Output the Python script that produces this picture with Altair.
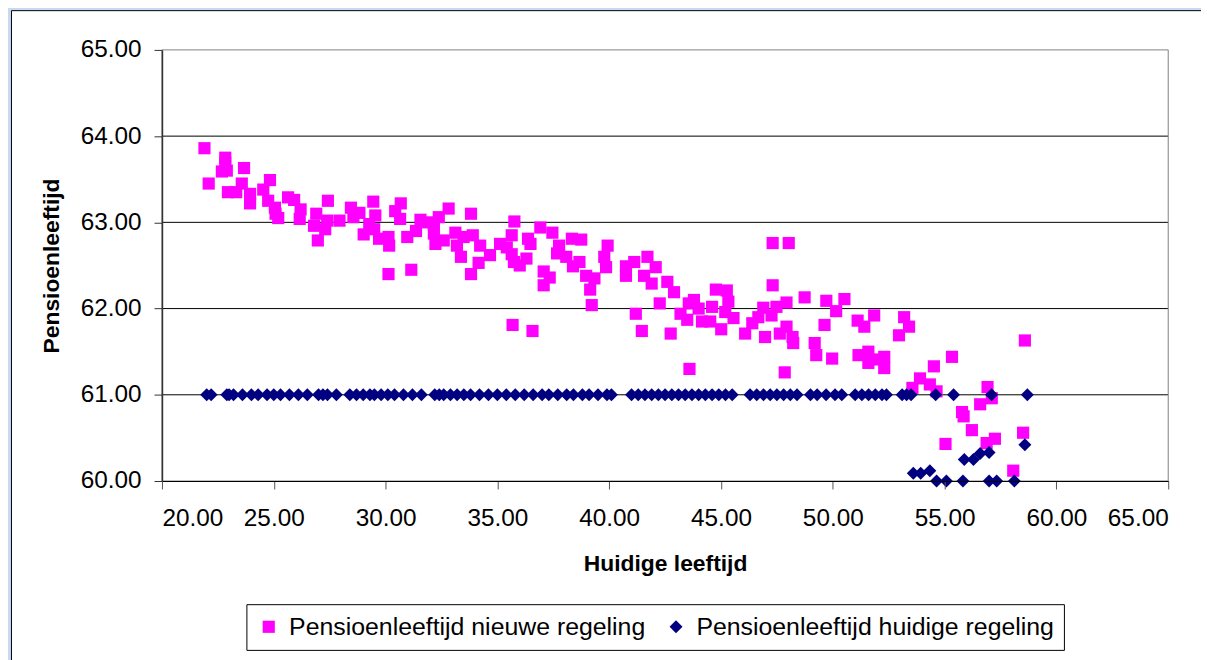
import altair as alt
import pandas as pd

NEW = "Pensioenleeftijd nieuwe regeling"
OLD = "Pensioenleeftijd huidige regeling"

new_x = [21.9, 22.09, 22.83, 22.83, 22.68, 22.9, 23.67, 22.95, 23.32, 23.57, 23.94, 23.94, 24.53, 24.83,
         24.75, 25.05, 25.08, 25.20, 25.64, 25.91, 26.2, 26.16, 26.8, 26.97, 26.9, 27.3, 27.39, 27.42,
         27.94, 28.45, 28.56, 28.83, 29.02, 29.27, 29.45, 29.54, 29.49, 29.71, 30.13, 30.16, 30.13, 30.43,
         30.68, 30.65, 30.97, 31.15, 31.56, 31.36,
         31.86, 32.16, 32.16, 32.23, 32.38, 32.82, 32.60, 33.12, 33.19, 33.49, 33.37, 33.82, 33.9, 34.23,
         34.16, 33.82, 34.67, 35.12, 35.42, 35.64, 35.76, 35.64, 35.74, 36.0, 36.3, 35.68, 36.57, 36.37,
         36.48, 36.92, 37.07, 37.34, 37.07, 37.46, 37.67, 37.76, 38.08, 38.33, 38.38, 38.75, 38.67, 38.97,
         39.34, 39.15, 39.22, 39.78, 39.86, 39.93, 40.75, 40.75, 41.12, 41.19, 41.46, 41.56, 41.71, 42.08,
         41.9, 42.26,
         42.6, 42.9, 42.75, 43.19, 43.56, 43.79, 43.49, 44.0, 44.15, 43.59, 44.52, 44.6, 44.77, 45.01,
         45.26, 45.33, 45.19, 45.56, 46.08, 46.4, 46.67, 46.89, 46.97, 47.26, 47.31, 47.31, 48.03, 47.48,
         47.93, 47.63, 47.93, 48.2, 48.23, 47.85, 48.74, 49.19, 49.26, 49.63, 49.71, 49.97, 50.15, 50.52,
         51.11, 51.41, 51.85, 51.15, 51.59, 51.59, 51.93, 52.3, 52.3, 53.19, 53.41, 52.96,
         58.59, 55.33, 54.52, 53.9, 54.34, 53.56, 54.64, 56.92, 57.11, 56.59, 55.78, 55.85, 56.22, 55.04,
         57.25, 56.88, 58.51, 58.07]
new_y = [63.86, 63.45, 63.75, 63.69, 63.59, 63.60, 63.63, 63.35, 63.35, 63.45, 63.33, 63.22, 63.38, 63.49,
         63.25, 63.17, 63.10, 63.05, 63.29, 63.26, 63.15, 63.04, 62.96, 62.79, 63.10, 62.92, 63.02, 63.25,
         63.02, 63.17, 63.06, 63.11, 62.86, 62.98, 63.24, 63.08, 62.92, 62.81, 62.83, 62.73, 62.40, 63.13,
         63.22, 63.04, 62.83, 62.45, 63.03, 62.90,
         63.0, 62.98, 62.87, 62.75, 63.06, 63.16, 62.79, 62.88, 62.73, 62.83, 62.60, 63.10, 62.85, 62.73,
         62.53, 62.40, 62.62, 62.75, 62.71, 62.85, 63.01, 62.63, 62.54, 62.50, 62.58, 61.81, 61.74, 62.81,
         62.75, 62.94, 62.43, 62.36, 62.27, 62.88, 62.64, 62.73, 62.60, 62.81, 62.49, 62.80, 62.54, 62.38,
         62.35, 62.22, 62.04, 62.60, 62.48, 62.73, 62.49, 62.38, 62.54, 61.94, 61.74, 62.38, 62.60, 62.48,
         62.29, 62.06,
         62.31, 62.19, 61.71, 61.94, 62.06, 62.10, 61.87, 62.0, 61.85, 61.30, 61.85, 62.02, 62.22, 61.76,
         62.21, 62.08, 61.96, 61.89, 61.71, 61.83, 61.90, 62.01, 61.67, 61.92, 62.27, 62.76, 62.76, 62.02,
         62.07, 61.71, 61.79, 61.67, 61.60, 61.26, 62.13, 61.60, 61.46, 61.81, 62.09, 61.42, 61.97, 62.11,
         61.86, 61.79, 61.92, 61.46, 61.50, 61.37, 61.41, 61.44, 61.31, 61.90, 61.79, 61.69,
         61.63, 61.44, 61.33, 61.19, 61.12, 61.08, 61.04, 61.09, 60.96, 60.89, 60.80, 60.75, 60.59, 60.43,
         60.49, 60.44, 60.56, 60.12]

old_x = [22.0, 22.2, 22.9, 23.0, 23.2, 23.6, 24.0, 24.3, 24.7, 25.0, 25.3, 25.7, 26.1, 26.5, 27.0, 27.2,
         27.4, 27.8, 28.4, 28.7, 29.0, 29.3, 29.5, 29.8, 30.1, 30.4, 30.8, 31.2, 31.6, 32.2, 32.4, 32.6,
         32.9, 33.2, 33.5, 33.8, 34.2, 34.6, 35.0, 35.4, 35.8, 36.2, 36.6, 37.0, 37.3, 37.7, 38.1, 38.4,
         38.8, 39.1, 39.5, 39.9, 40.1, 41.0, 41.3, 41.6, 41.9, 42.2, 42.5, 42.8, 43.1, 43.4, 43.7, 44.0,
         44.3, 44.6, 44.9, 45.2, 45.5, 46.3, 46.6, 46.9, 47.2, 47.5, 47.8, 48.1, 48.4, 49.0, 49.3, 49.7,
         50.1, 50.4, 51.0, 51.3, 51.6, 51.9, 52.2, 52.4, 53.1, 53.3, 53.5, 54.6, 55.4, 57.1, 58.7,
         53.6, 53.93, 54.34, 54.64, 55.08, 55.82, 55.88, 56.29, 56.59, 56.99, 56.99, 57.33, 58.12, 58.59]
old_y = [61.0] * 95 + [60.09, 60.09, 60.12, 60.0, 60.0, 60.0, 60.25, 60.25, 60.32, 60.33, 60.0, 60.0,
                       60.0, 60.42]

x_ticks = [20, 25, 30, 35, 40, 45, 50, 55, 60, 65]
y_ticks = [60, 61, 62, 63, 64, 65]
grid_y = [61, 62, 63, 64]

df = pd.DataFrame({
    "x": new_x + old_x,
    "y": new_y + old_y,
    "serie": [NEW] * len(new_x) + [OLD] * len(old_x),
})

FONT = "Liberation Sans"

legend = alt.Legend(
    title=None, orient="none", legendX=85, legendY=558, direction="horizontal",
    fillColor="white", strokeColor="black", padding=10,
    labelFont=FONT, labelFontSize=25, labelColor="black", labelOffset=8,
    columnPadding=18, symbolSize=110, symbolStrokeWidth=0, labelLimit=600,
)

xscale = alt.Scale(domain=[20, 65], nice=False, zero=False)
yscale = alt.Scale(domain=[60, 65], nice=False, zero=False)

x_axis = alt.Axis(
    values=x_ticks, format=".2f", title="Huidige leeftijd", grid=False,
    labelFont=FONT, labelFontSize=24.5, labelColor="black", labelPadding=18,
    tickSize=8, tickColor="#555555", domainColor="black", zindex=1,
    titleFont=FONT, titleFontSize=23, titleFontWeight="bold", titleColor="black",
    titleBaseline="alphabetic", titleY=90,
)
y_axis = alt.Axis(
    values=y_ticks, format=".2f", title="Pensioenleeftijd", grid=False,
    labelFont=FONT, labelFontSize=24.5, labelColor="black", labelPadding=13,
    tickSize=8, tickColor="#333333", domainColor="#333333", domainWidth=1.5, zindex=1,
    titleFont=FONT, titleFontSize=23, titleFontWeight="bold", titleColor="black",
    titleBaseline="alphabetic", titleX=-104.5,
)

panel = alt.Chart(pd.DataFrame({"a": [0]})).mark_rect(
    fill="white", stroke="black", strokeWidth=1
).encode(
    x=alt.value(-151.5), x2=alt.value(2000), y=alt.value(-39.5), y2=alt.value(1000)
)

grid = alt.Chart(pd.DataFrame({"g": grid_y})).mark_rule(color="black", strokeWidth=1).encode(
    y=alt.Y("g:Q", scale=yscale, axis=y_axis, title="Pensioenleeftijd")
)

border = alt.Chart(pd.DataFrame({"a": [0]})).mark_rect(
    fillOpacity=0, stroke="#808080", strokeWidth=1
).encode(
    x=alt.value(0), x2=alt.value("width"), y=alt.value(0), y2=alt.value("height")
)

points = alt.Chart(df).mark_point(filled=True, opacity=1).encode(
    x=alt.X("x:Q", scale=xscale, axis=x_axis),
    y=alt.Y("y:Q", scale=yscale, axis=y_axis, title="Pensioenleeftijd"),
    color=alt.Color("serie:N", scale=alt.Scale(domain=[NEW, OLD], range=["#FF00FF", "#000080"]),
                    legend=legend),
    shape=alt.Shape("serie:N", scale=alt.Scale(domain=[NEW, OLD], range=["square", "diamond"]),
                    legend=legend),
    size=alt.Size("serie:N", scale=alt.Scale(domain=[NEW, OLD], range=[150, 170]), legend=None),
)

chart = alt.layer(panel, grid, border, points).resolve_scale(y="shared").properties(
    width=1013, height=434,
    autosize=alt.AutoSizeParams(type="none"),
    padding={"left": 155, "top": 40, "right": 33, "bottom": 178},
    background="#C8DAF2",
).configure_view(strokeWidth=0)

chart.save("out.html", embed_options={"renderer": "svg", "actions": False})
